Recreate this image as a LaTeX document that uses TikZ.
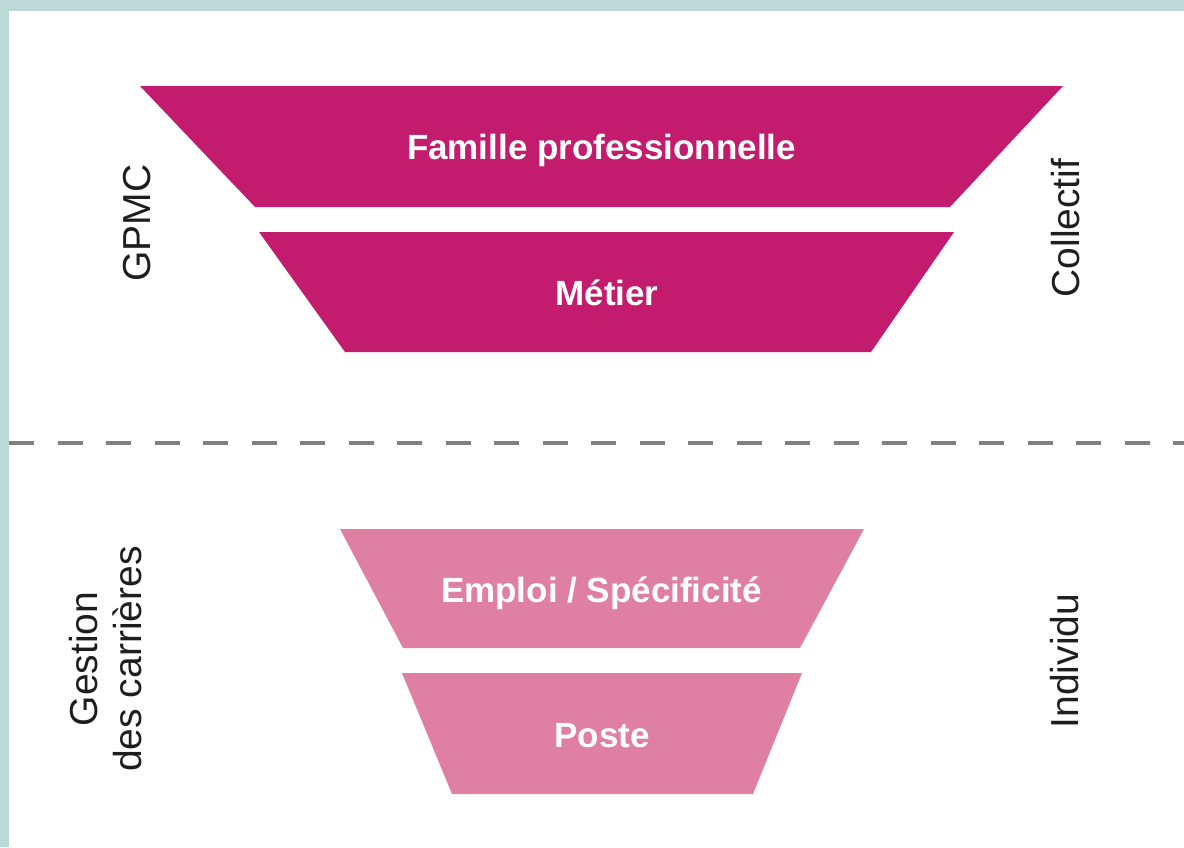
\documentclass[tikz,border=0pt]{standalone}
\usepackage{fontspec}
\setmainfont{Liberation Sans}
\definecolor{frameteal}{HTML}{BCD9D6}
\definecolor{darkband}{HTML}{C31B6E}
\definecolor{lightband}{HTML}{DF80A2}
\definecolor{dashgray}{HTML}{808080}
\definecolor{labelgray}{HTML}{1E1E1E}
\tikzset{
  bandtext/.style={text=white, font=\bfseries\fontsize{35}{40}\selectfont, anchor=base, inner sep=0pt},
  sidelabel/.style={rotate=90, anchor=base, inner sep=0pt, text=labelgray, font=\fontsize{39}{44}\selectfont},
  divider/.style={draw=dashgray, line width=4pt, dash pattern=on 25pt off 23.5pt}
}
\begin{document}
\begin{tikzpicture}[x=1pt,y=-1pt]
  \useasboundingbox (0,0) rectangle (1184,847);
  \fill[frameteal] (0,0) rectangle (1184,847);
  \fill[white] (9,11) rectangle (1184,847);

  % bands
  \fill[darkband] (140,86) -- (1063,86) -- (950,207) -- (255,207) -- cycle;
  \fill[darkband] (259,232) -- (954,232) -- (871,352) -- (345,352) -- cycle;
  \fill[lightband] (340,529) -- (864,529) -- (800,648) -- (403,648) -- cycle;
  \fill[lightband] (402,673) -- (802,673) -- (753,794) -- (452,794) -- cycle;

  \node[bandtext] (famille) at (601.5,159) {Famille professionnelle};
  \node[bandtext] (metier) at (607,305) {Métier};
  \node[bandtext] (emploi) at (601.5,602) {Emploi / Spécificité};
  \node[bandtext] (poste) at (602,747) {Poste};

  % divider
  \coordinate (dl) at (9,443);
  \coordinate (dr) at (1184,443);
  \draw[divider] (dl) -- (dr);

  % side labels
  \node[sidelabel] (gpmc) at (150,223) {GPMC};
  \node[sidelabel] (collectif) at (1079,228) {Collectif};
  \node[sidelabel] (gestion) at (97,659) {Gestion};
  \node[sidelabel] (carrieres) at (141,659) {des carrières};
  \node[sidelabel] (individu) at (1078,661) {Individu};
\end{tikzpicture}
\end{document}
